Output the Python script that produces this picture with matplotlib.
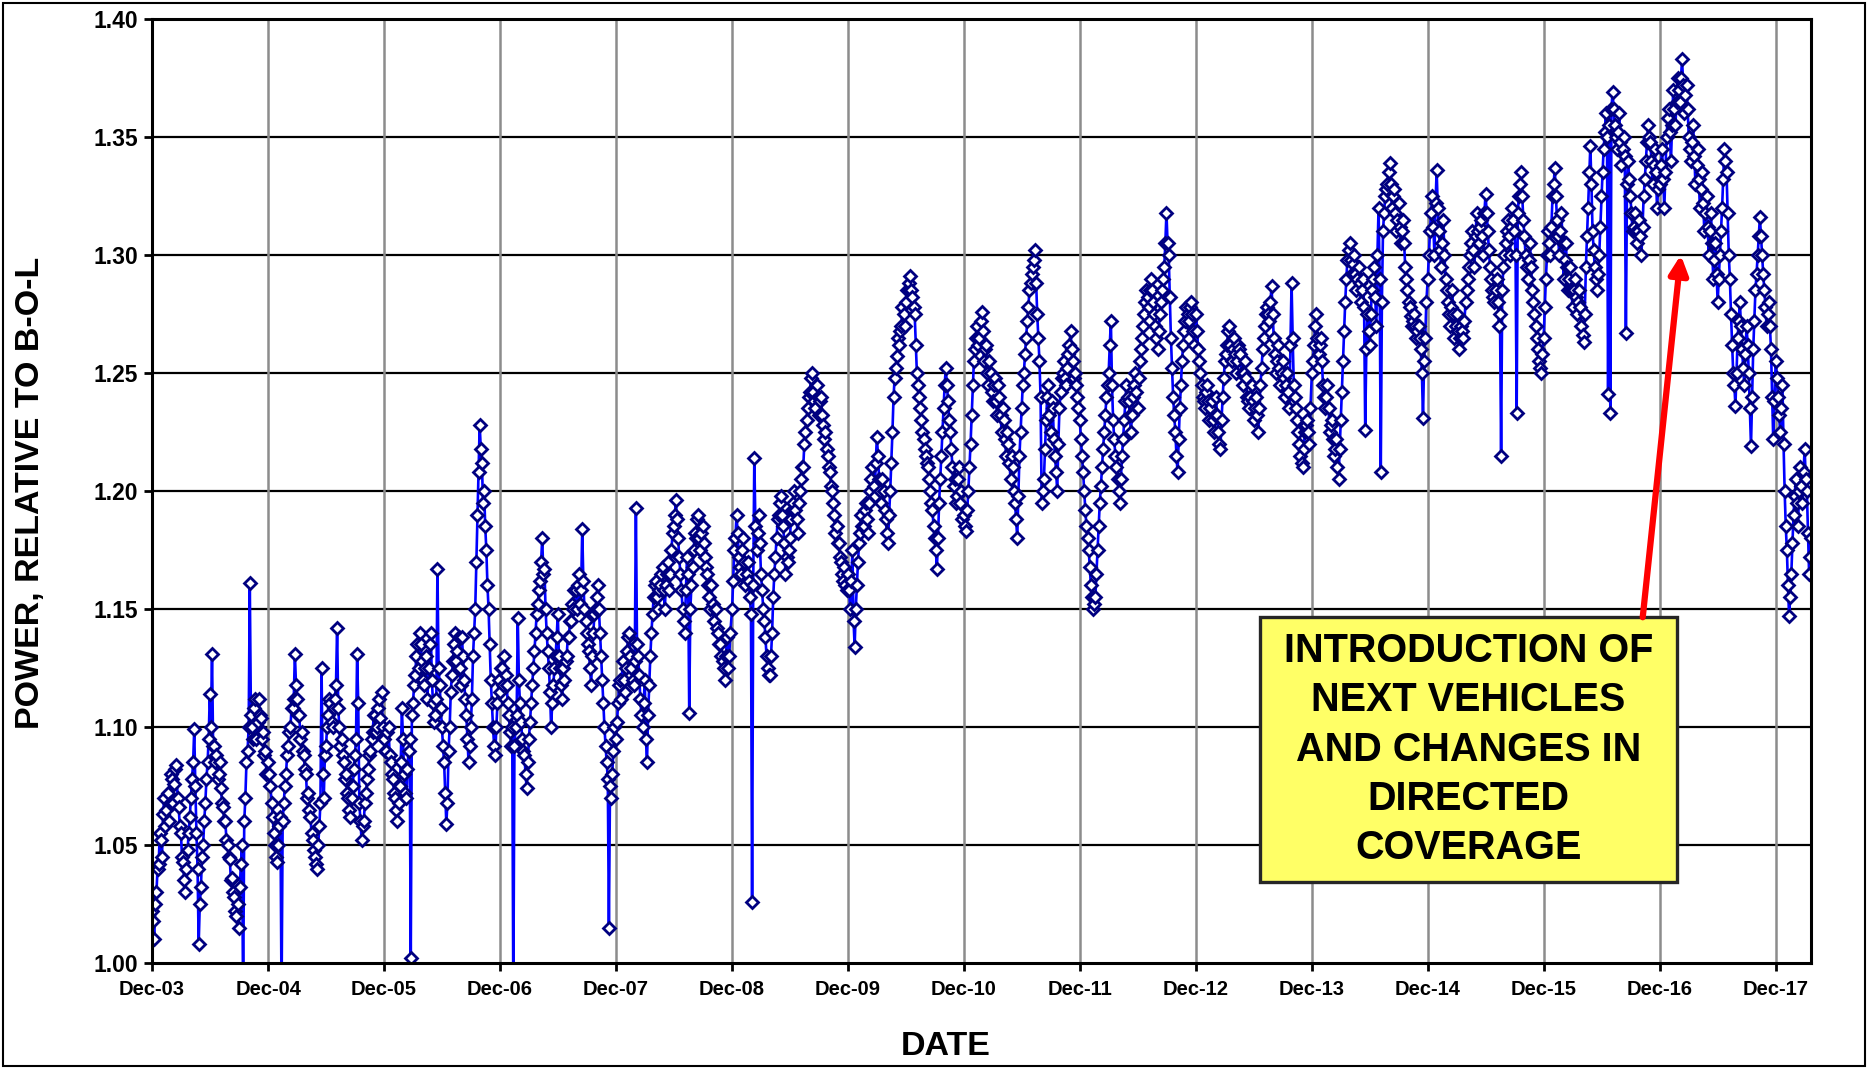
import datetime as dt
import matplotlib
matplotlib.use("Agg")
import matplotlib.pyplot as plt
from matplotlib.patches import Rectangle

plt.rcParams['font.family'] = ['Liberation Sans', 'DejaVu Sans']
plt.rcParams['font.weight'] = 'bold'

# Weekly readings (start of each week); each list starts on 1 December of the year in its name
p2003 = [1.022, 1.010, 1.030, 1.042, 1.052, 1.063, 1.058, 1.072, 1.068, 1.078,
         1.076, 1.084, 1.066, 1.055, 1.043, 1.030, 1.048, 1.062, 1.078, 1.099,
         1.055, 1.008, 1.032, 1.050, 1.068, 1.085, 1.114, 1.131, 1.092, 1.088,
         1.080, 1.074, 1.066, 1.060, 1.050, 1.044, 1.036, 1.028, 1.020, 1.015,
         1.042, 0.985, 1.070, 1.090, 1.161, 1.100, 1.108, 1.095, 1.112, 1.104,
         1.098, 1.090]
p2004 = [1.085, 1.075, 1.062, 1.050, 1.043, 1.058, 0.985, 1.068, 1.080, 1.092,
         1.100, 1.108, 1.131, 1.112, 1.105, 1.098, 1.088, 1.080, 1.072, 1.062,
         1.052, 1.045, 1.040, 1.058, 1.125, 1.070, 1.092, 1.105, 1.110, 1.100,
         1.112, 1.142, 1.100, 1.095, 1.085, 1.080, 1.070, 1.062, 1.075, 1.088,
         1.131, 1.068, 1.052, 1.060, 1.072, 1.082, 1.090, 1.098, 1.105, 1.100,
         1.112, 1.115]
p2005 = [1.095, 1.090, 1.100, 1.085, 1.078, 1.070, 1.060, 1.075, 1.108, 1.080,
         1.070, 1.090, 1.002, 1.110, 1.122, 1.135, 1.140, 1.128, 1.118, 1.130,
         1.125, 1.140, 1.110, 1.105, 1.167, 1.118, 1.100, 1.085, 1.059, 1.090,
         1.115, 1.128, 1.140, 1.132, 1.125, 1.138, 1.120, 1.105, 1.085, 1.100,
         1.130, 1.150, 1.190, 1.228, 1.212, 1.200, 1.175, 1.150, 1.120, 1.100,
         1.088, 1.110]
p2006 = [1.115, 1.125, 1.130, 1.118, 1.105, 1.092, 0.985, 1.100, 1.146, 1.110,
         1.095, 1.088, 1.074, 1.095, 1.110, 1.125, 1.140, 1.152, 1.162, 1.180,
         1.167, 1.140, 1.125, 1.100, 1.118, 1.130, 1.148, 1.125, 1.112, 1.120,
         1.130, 1.138, 1.145, 1.150, 1.158, 1.160, 1.152, 1.184, 1.150, 1.140,
         1.132, 1.118, 1.140, 1.150, 1.160, 1.140, 1.120, 1.100, 1.085, 1.015,
         1.070, 1.090]
p2007 = [1.095, 1.110, 1.120, 1.128, 1.115, 1.132, 1.140, 1.125, 1.118, 1.193,
         1.130, 1.112, 1.100, 1.120, 1.085, 1.118, 1.140, 1.155, 1.162, 1.150,
         1.160, 1.168, 1.150, 1.165, 1.158, 1.175, 1.185, 1.196, 1.180, 1.165,
         1.150, 1.140, 1.172, 1.106, 1.160, 1.175, 1.180, 1.190, 1.175, 1.185,
         1.172, 1.165, 1.155, 1.160, 1.145, 1.150, 1.140, 1.135, 1.128, 1.120,
         1.138, 1.130]
p2008 = [1.150, 1.175, 1.190, 1.172, 1.165, 1.180, 1.160, 1.170, 1.155, 1.026,
         1.214, 1.175, 1.190, 1.165, 1.150, 1.138, 1.125, 1.122, 1.140, 1.165,
         1.180, 1.190, 1.198, 1.185, 1.165, 1.170, 1.180, 1.192, 1.200, 1.188,
         1.195, 1.205, 1.210, 1.225, 1.235, 1.242, 1.250, 1.238, 1.245, 1.232,
         1.240, 1.228, 1.225, 1.215, 1.208, 1.200, 1.190, 1.185, 1.178, 1.170,
         1.162, 1.160]
p2009 = [1.165, 1.150, 1.175, 1.134, 1.160, 1.178, 1.190, 1.185, 1.195, 1.182,
         1.200, 1.210, 1.198, 1.223, 1.205, 1.195, 1.200, 1.188, 1.178, 1.200,
         1.225, 1.248, 1.257, 1.262, 1.270, 1.275, 1.280, 1.285, 1.291, 1.282,
         1.275, 1.250, 1.240, 1.230, 1.222, 1.215, 1.210, 1.200, 1.192, 1.180,
         1.167, 1.195, 1.215, 1.235, 1.252, 1.238, 1.225, 1.210, 1.205, 1.198,
         1.210, 1.200]
p2010 = [1.190, 1.183, 1.200, 1.220, 1.245, 1.260, 1.270, 1.265, 1.276, 1.255,
         1.262, 1.245, 1.250, 1.238, 1.248, 1.232, 1.240, 1.225, 1.230, 1.215,
         1.220, 1.205, 1.210, 1.195, 1.180, 1.215, 1.235, 1.250, 1.265, 1.278,
         1.288, 1.295, 1.302, 1.275, 1.255, 1.195, 1.205, 1.230, 1.245, 1.225,
         1.235, 1.215, 1.200, 1.235, 1.248, 1.255, 1.245, 1.258, 1.268, 1.255,
         1.250, 1.240]
p2011 = [1.230, 1.215, 1.200, 1.185, 1.175, 1.160, 1.150, 1.155, 1.175, 1.195,
         1.210, 1.225, 1.240, 1.250, 1.272, 1.230, 1.215, 1.205, 1.195, 1.215,
         1.230, 1.245, 1.238, 1.225, 1.240, 1.250, 1.235, 1.255, 1.265, 1.275,
         1.285, 1.278, 1.290, 1.280, 1.270, 1.260, 1.275, 1.285, 1.295, 1.318,
         1.300, 1.265, 1.240, 1.225, 1.208, 1.235, 1.255, 1.268, 1.278, 1.272,
         1.280, 1.268]
p2012 = [1.275, 1.260, 1.250, 1.240, 1.235, 1.245, 1.230, 1.238, 1.225, 1.240,
         1.225, 1.218, 1.240, 1.255, 1.262, 1.270, 1.255, 1.265, 1.250, 1.262,
         1.258, 1.245, 1.255, 1.240, 1.235, 1.245, 1.230, 1.240, 1.225, 1.245,
         1.260, 1.270, 1.278, 1.272, 1.287, 1.265, 1.250, 1.262, 1.245, 1.255,
         1.240, 1.250, 1.235, 1.288, 1.245, 1.235, 1.225, 1.215, 1.210, 1.225,
         1.230, 1.220]
p2013 = [1.250, 1.262, 1.275, 1.258, 1.265, 1.245, 1.235, 1.245, 1.225, 1.230,
         1.215, 1.222, 1.205, 1.230, 1.255, 1.280, 1.298, 1.305, 1.292, 1.300,
         1.285, 1.295, 1.280, 1.290, 1.226, 1.275, 1.262, 1.285, 1.295, 1.270,
         1.320, 1.208, 1.310, 1.325, 1.330, 1.339, 1.320, 1.328, 1.310, 1.322,
         1.305, 1.315, 1.295, 1.285, 1.278, 1.270, 1.275, 1.265, 1.270, 1.260,
         1.231, 1.265]
p2014 = [1.290, 1.310, 1.325, 1.300, 1.336, 1.310, 1.295, 1.315, 1.290, 1.280,
         1.270, 1.285, 1.265, 1.275, 1.260, 1.270, 1.265, 1.280, 1.290, 1.300,
         1.310, 1.295, 1.318, 1.305, 1.315, 1.300, 1.326, 1.310, 1.295, 1.285,
         1.280, 1.290, 1.270, 1.215, 1.295, 1.305, 1.315, 1.300, 1.320, 1.310,
         1.233, 1.325, 1.335, 1.315, 1.300, 1.290, 1.305, 1.285, 1.275, 1.265,
         1.255, 1.250]
p2015 = [1.265, 1.290, 1.310, 1.300, 1.325, 1.337, 1.315, 1.300, 1.318, 1.290,
         1.305, 1.285, 1.295, 1.278, 1.290, 1.275, 1.285, 1.270, 1.263, 1.295,
         1.320, 1.346, 1.310, 1.295, 1.285, 1.300, 1.325, 1.345, 1.360, 1.241,
         1.233, 1.369, 1.355, 1.345, 1.360, 1.338, 1.350, 1.267, 1.340, 1.325,
         1.310, 1.318, 1.305, 1.315, 1.300, 1.325, 1.340, 1.355, 1.348, 1.330,
         1.345, 1.320]
p2016 = [1.330, 1.345, 1.320, 1.350, 1.362, 1.340, 1.370, 1.355, 1.375, 1.365,
         1.383, 1.360, 1.372, 1.350, 1.340, 1.355, 1.330, 1.345, 1.320, 1.335,
         1.310, 1.325, 1.300, 1.318, 1.290, 1.305, 1.280, 1.300, 1.320, 1.345,
         1.335, 1.300, 1.275, 1.250, 1.236, 1.265, 1.280, 1.260, 1.245, 1.270,
         1.250, 1.219, 1.260, 1.285, 1.300, 1.316, 1.300, 1.285, 1.270, 1.280,
         1.260, 1.222]
p2017 = [1.255, 1.240, 1.225, 1.245, 1.200, 1.175, 1.147, 1.165, 1.190, 1.205,
         1.185, 1.210, 1.195, 1.218, 1.200, 1.165, 1.180]

# Mid-week readings (half a week after each value above)
q2003 = [1.018, 1.025, 1.040, 1.055, 1.045, 1.070, 1.065, 1.060, 1.080, 1.068,
         1.082, 1.070, 1.058, 1.045, 1.035, 1.040, 1.055, 1.070, 1.085, 1.075,
         1.040, 1.025, 1.045, 1.060, 1.078, 1.095, 1.100, 1.092, 1.085, 1.078,
         1.085, 1.068, 1.060, 1.052, 1.045, 1.035, 1.030, 1.022, 1.025, 1.032,
         1.050, 1.060, 1.085, 1.100, 1.105, 1.095, 1.112, 1.102, 1.105, 1.095,
         1.088, 1.080]
q2004 = [1.080, 1.068, 1.055, 1.045, 1.050, 1.062, 1.060, 1.075, 1.088, 1.098,
         1.108, 1.112, 1.118, 1.105, 1.095, 1.090, 1.082, 1.070, 1.065, 1.055,
         1.048, 1.042, 1.050, 1.068, 1.080, 1.088, 1.100, 1.112, 1.102, 1.108,
         1.118, 1.108, 1.092, 1.088, 1.078, 1.072, 1.065, 1.070, 1.082, 1.095,
         1.110, 1.060, 1.058, 1.068, 1.078, 1.088, 1.095, 1.105, 1.098, 1.108,
         1.104, 1.100]
q2005 = [1.090, 1.098, 1.088, 1.080, 1.072, 1.065, 1.068, 1.085, 1.095, 1.072,
         1.082, 1.095, 1.105, 1.118, 1.130, 1.125, 1.135, 1.120, 1.125, 1.112,
         1.135, 1.120, 1.102, 1.112, 1.125, 1.108, 1.092, 1.072, 1.068, 1.100,
         1.122, 1.135, 1.128, 1.138, 1.118, 1.130, 1.112, 1.095, 1.092, 1.112,
         1.140, 1.170, 1.208, 1.218, 1.195, 1.185, 1.160, 1.135, 1.110, 1.092,
         1.100, 1.120]
q2006 = [1.125, 1.118, 1.122, 1.110, 1.098, 1.100, 1.092, 1.105, 1.120, 1.102,
         1.090, 1.080, 1.085, 1.102, 1.118, 1.132, 1.148, 1.158, 1.170, 1.165,
         1.150, 1.132, 1.115, 1.110, 1.125, 1.138, 1.130, 1.118, 1.125, 1.128,
         1.138, 1.145, 1.152, 1.158, 1.150, 1.165, 1.158, 1.162, 1.145, 1.135,
         1.125, 1.130, 1.148, 1.155, 1.150, 1.130, 1.110, 1.092, 1.078, 1.075,
         1.080, 1.100]
q2007 = [1.102, 1.118, 1.112, 1.120, 1.125, 1.138, 1.130, 1.120, 1.128, 1.135,
         1.122, 1.105, 1.110, 1.095, 1.105, 1.130, 1.148, 1.160, 1.155, 1.158,
         1.165, 1.158, 1.160, 1.170, 1.165, 1.182, 1.190, 1.188, 1.172, 1.158,
         1.145, 1.158, 1.165, 1.150, 1.168, 1.182, 1.188, 1.180, 1.182, 1.178,
         1.168, 1.160, 1.150, 1.152, 1.150, 1.142, 1.135, 1.130, 1.125, 1.130,
         1.125, 1.140]
q2008 = [1.162, 1.180, 1.182, 1.168, 1.175, 1.170, 1.165, 1.162, 1.148, 1.160,
         1.185, 1.182, 1.178, 1.158, 1.145, 1.130, 1.122, 1.130, 1.155, 1.172,
         1.188, 1.195, 1.190, 1.178, 1.172, 1.175, 1.188, 1.195, 1.192, 1.182,
         1.200, 1.210, 1.220, 1.230, 1.240, 1.248, 1.242, 1.235, 1.240, 1.238,
         1.232, 1.222, 1.218, 1.210, 1.202, 1.195, 1.182, 1.178, 1.172, 1.165,
         1.168, 1.158]
q2009 = [1.158, 1.162, 1.145, 1.150, 1.170, 1.182, 1.185, 1.192, 1.188, 1.195,
         1.205, 1.202, 1.212, 1.215, 1.200, 1.205, 1.192, 1.182, 1.190, 1.212,
         1.240, 1.252, 1.265, 1.268, 1.278, 1.270, 1.285, 1.288, 1.285, 1.278,
         1.262, 1.245, 1.235, 1.225, 1.218, 1.212, 1.205, 1.195, 1.185, 1.175,
         1.180, 1.205, 1.225, 1.245, 1.245, 1.230, 1.218, 1.202, 1.195, 1.205,
         1.195, 1.188]
q2010 = [1.185, 1.192, 1.210, 1.232, 1.255, 1.265, 1.262, 1.272, 1.268, 1.260,
         1.250, 1.255, 1.242, 1.245, 1.238, 1.245, 1.232, 1.235, 1.222, 1.225,
         1.212, 1.215, 1.200, 1.188, 1.198, 1.225, 1.245, 1.258, 1.272, 1.285,
         1.292, 1.298, 1.288, 1.265, 1.240, 1.200, 1.218, 1.240, 1.232, 1.238,
         1.222, 1.208, 1.220, 1.242, 1.250, 1.248, 1.252, 1.262, 1.260, 1.248,
         1.245, 1.235]
q2011 = [1.222, 1.208, 1.192, 1.180, 1.168, 1.155, 1.152, 1.165, 1.185, 1.202,
         1.218, 1.232, 1.245, 1.262, 1.245, 1.222, 1.210, 1.200, 1.205, 1.222,
         1.238, 1.240, 1.232, 1.232, 1.245, 1.242, 1.248, 1.260, 1.270, 1.280,
         1.282, 1.285, 1.285, 1.275, 1.265, 1.268, 1.280, 1.290, 1.305, 1.305,
         1.282, 1.252, 1.232, 1.215, 1.222, 1.245, 1.262, 1.272, 1.275, 1.278,
         1.275, 1.262]
q2012 = [1.268, 1.255, 1.245, 1.238, 1.242, 1.238, 1.235, 1.230, 1.232, 1.232,
         1.220, 1.230, 1.248, 1.258, 1.268, 1.262, 1.260, 1.258, 1.255, 1.260,
         1.250, 1.250, 1.248, 1.238, 1.240, 1.238, 1.235, 1.232, 1.235, 1.252,
         1.265, 1.275, 1.275, 1.280, 1.275, 1.258, 1.255, 1.252, 1.250, 1.248,
         1.245, 1.242, 1.262, 1.265, 1.240, 1.230, 1.220, 1.212, 1.218, 1.228,
         1.225, 1.235]
q2013 = [1.255, 1.270, 1.265, 1.262, 1.255, 1.240, 1.240, 1.235, 1.228, 1.222,
         1.218, 1.210, 1.218, 1.242, 1.268, 1.290, 1.302, 1.298, 1.296, 1.292,
         1.290, 1.288, 1.285, 1.278, 1.260, 1.268, 1.275, 1.290, 1.282, 1.300,
         1.290, 1.280, 1.318, 1.328, 1.335, 1.330, 1.325, 1.318, 1.315, 1.312,
         1.310, 1.305, 1.290, 1.280, 1.274, 1.272, 1.270, 1.268, 1.265, 1.250,
         1.255, 1.280]
q2014 = [1.300, 1.318, 1.312, 1.322, 1.320, 1.302, 1.305, 1.300, 1.285, 1.275,
         1.278, 1.275, 1.270, 1.268, 1.265, 1.268, 1.272, 1.285, 1.295, 1.305,
         1.302, 1.308, 1.310, 1.312, 1.308, 1.318, 1.318, 1.302, 1.290, 1.282,
         1.285, 1.280, 1.275, 1.285, 1.300, 1.310, 1.308, 1.312, 1.315, 1.300,
         1.318, 1.330, 1.325, 1.308, 1.295, 1.298, 1.295, 1.280, 1.270, 1.260,
         1.252, 1.258]
q2015 = [1.278, 1.300, 1.305, 1.312, 1.330, 1.325, 1.308, 1.310, 1.305, 1.298,
         1.295, 1.290, 1.285, 1.285, 1.282, 1.280, 1.278, 1.266, 1.275, 1.308,
         1.335, 1.330, 1.302, 1.290, 1.292, 1.312, 1.335, 1.352, 1.350, 1.355,
         1.362, 1.362, 1.350, 1.352, 1.348, 1.345, 1.342, 1.330, 1.332, 1.318,
         1.312, 1.310, 1.310, 1.308, 1.312, 1.332, 1.348, 1.350, 1.340, 1.338,
         1.335, 1.328]
q2016 = [1.338, 1.332, 1.335, 1.358, 1.352, 1.355, 1.362, 1.365, 1.370, 1.375,
         1.372, 1.368, 1.362, 1.345, 1.348, 1.342, 1.338, 1.332, 1.328, 1.322,
         1.318, 1.312, 1.310, 1.305, 1.298, 1.292, 1.290, 1.310, 1.332, 1.340,
         1.318, 1.290, 1.262, 1.245, 1.250, 1.272, 1.270, 1.252, 1.258, 1.262,
         1.235, 1.240, 1.272, 1.292, 1.308, 1.308, 1.292, 1.278, 1.275, 1.270,
         1.240, 1.238]
q2017 = [1.248, 1.232, 1.235, 1.220, 1.185, 1.160, 1.155, 1.178, 1.198, 1.195,
         1.200, 1.202, 1.208, 1.205, 1.182, 1.172]

start_years = list(range(2003, 2018))
weekly_start = [p2003, p2004, p2005, p2006, p2007, p2008, p2009, p2010, p2011,
                p2012, p2013, p2014, p2015, p2016, p2017]
weekly_mid = [q2003, q2004, q2005, q2006, q2007, q2008, q2009, q2010, q2011,
              q2012, q2013, q2014, q2015, q2016, q2017]

y_ticks = [1.00, 1.05, 1.10, 1.15, 1.20, 1.25, 1.30, 1.35, 1.40]
x_tick_years = list(range(2003, 2018))
x_tick_labels = ["Dec-%02d" % (y % 100) for y in x_tick_years]

annotation_text = "INTRODUCTION OF\nNEXT VEHICLES\nAND CHANGES IN\nDIRECTED\nCOVERAGE"
x_label = "DATE"
y_label = "POWER, RELATIVE TO B-O-L"

dates, values = [], []
for yr, pv, qv in zip(start_years, weekly_start, weekly_mid):
    s = dt.datetime(yr, 12, 1)
    for k, v in enumerate(pv):
        dates.append(s + dt.timedelta(days=7 * k))
        values.append(v)
        if k < len(qv):
            dates.append(s + dt.timedelta(days=7 * k + 3.5))
            values.append(qv[k])

W, H = 1868, 1069
fig = plt.figure(figsize=(W / 100, H / 100), dpi=100)
fig.patch.set_facecolor('white')
L, R, T, B = 152, 1811, 19, 963
ax = fig.add_axes([L / W, 1 - B / H, (R - L) / W, (B - T) / H])

ax.set_xlim(dt.datetime(2003, 12, 1), dt.datetime(2018, 3, 22))
ax.set_ylim(1.0, 1.4)

ax.set_yticks(y_ticks)
ax.set_yticklabels(["%.2f" % v for v in y_ticks], fontsize=16.5, fontweight='bold')
ax.set_xticks([dt.datetime(y, 12, 1) for y in x_tick_years])
ax.set_xticklabels(x_tick_labels, fontsize=14.5, fontweight='bold')

for y in y_ticks[1:-1]:
    ax.axhline(y, color='black', lw=1.6, zorder=1)
for y in x_tick_years[1:]:
    ax.axvline(dt.datetime(y, 12, 1), color='#8c8c8c', lw=1.8, zorder=1)

ax.plot(dates, values, color='#0000ff', lw=1.9, marker='D', ms=6.0,
        mfc='white', mec='#000080', mew=2.0, zorder=3, clip_on=True)

for sp in ax.spines.values():
    sp.set_linewidth(2.2)
    sp.set_color('black')
    sp.set_zorder(5)
ax.tick_params(axis='both', direction='out', length=6, width=2, colors='black')
ax.tick_params(axis='x', pad=6)
ax.tick_params(axis='y', pad=4)

ax.set_xlabel(x_label, fontsize=24.5, fontweight='bold')
ax.xaxis.set_label_coords(0.4786, -0.088)
ax.set_ylabel(y_label, fontsize=24.5, fontweight='bold')
ax.yaxis.set_label_coords(-0.073, 0.498)
ax.xaxis.label.set_va('center')
ax.yaxis.label.set_va('center')

# annotation box (axes fraction)
bx0, bx1, by0, by1 = 0.668, 0.919, 0.0858, 0.3665
ax.add_patch(Rectangle((bx0, by0), bx1 - bx0, by1 - by0, transform=ax.transAxes,
                       facecolor='#ffff66', edgecolor='#262626', lw=2.4, zorder=6))
ax.text((bx0 + bx1) / 2, (by0 + by1) / 2, annotation_text, transform=ax.transAxes,
        ha='center', va='center', fontsize=28.5, fontweight='bold', linespacing=1.37,
        zorder=7)

ax.annotate('', xy=(dt.datetime(2017, 2, 5), 1.300),
            xytext=(dt.datetime(2016, 10, 8), 1.1465),
            arrowprops=dict(arrowstyle='-|>', color='#ff0000', lw=4.5,
                            mutation_scale=28, shrinkA=0, shrinkB=0),
            zorder=8)

fig.add_artist(Rectangle((3 / W, 3 / H), 1 - 6 / W, 1 - 6 / H, transform=fig.transFigure,
                         fill=False, edgecolor='black', lw=1.5))

fig.savefig("out.png", dpi=100)
